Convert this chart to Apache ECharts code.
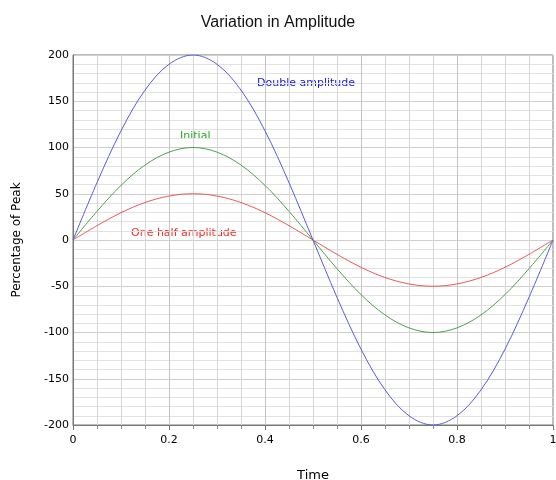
<!DOCTYPE html>
<html>
<head>
<meta charset="utf-8">
<script src="https://cdn.jsdelivr.net/npm/echarts@6/dist/echarts.min.js"></script>
<style>html,body{margin:0;padding:0;background:#fff;}#c{width:556px;height:480px;}</style>
</head>
<body>
<div id="c"></div>
<script>
var times = [0,0.05,0.1,0.15,0.2,0.25,0.3,0.35,0.4,0.45,0.5,0.55,0.6,0.65,0.7,0.75,0.8,0.85,0.9,0.95,1];
var initial = [0,31,59,81,95,100,95,81,59,31,0,-31,-59,-81,-95,-100,-95,-81,-59,-31,0];
var doubleAmp = [0,62,118,162,190,200,190,162,118,62,0,-62,-118,-162,-190,-200,-190,-162,-118,-62,0];
var halfAmp = [0,15.5,29.5,40.5,47.5,50,47.5,40.5,29.5,15.5,0,-15.5,-29.5,-40.5,-47.5,-50,-47.5,-40.5,-29.5,-15.5,0];
var xTicks = ['0','0.2','0.4','0.6','0.8','1'];
var yTicks = ['-200','-150','-100','-50','0','50','100','150','200'];

function pairs(ys){ return times.map(function(t,i){ return [t, ys[i]]; }); }

var chart = echarts.init(document.getElementById('c'));
var font = 'DejaVu Sans';
chart.setOption({
  animation: false,
  title: {
    text: 'Variation in Amplitude', left: 'center', top: 10,
    textStyle: {fontFamily: 'Liberation Sans', fontSize: 16, fontWeight: 'normal', color: '#111'}
  },
  grid: {left: 73, right: 3, top: 55, bottom: 55, show: true, borderColor: '#777', borderWidth: 1,
         outerBoundsMode: 'none', containLabel: false},
  xAxis: {
    type: 'value', min: 0, max: 1, interval: 0.2,
    name: 'Time', nameLocation: 'middle', nameGap: 44,
    nameTextStyle: {fontFamily: font, fontSize: 13, color: '#000'},
    axisLine: {show: true, onZero: false, lineStyle: {color: '#777'}},
    axisTick: {show: true, length: 5, lineStyle: {color: '#777'}},
    minorTick: {show: true, splitNumber: 4, length: 4, lineStyle: {color: '#888'}},
    axisLabel: {fontFamily: font, fontSize: 11, color: '#000', margin: 10,
      formatter: function(v){ return xTicks[Math.round(v/0.2)]; }},
    splitLine: {show: true, lineStyle: {color: '#c4c4c4'}},
    minorSplitLine: {show: true, lineStyle: {color: '#d6d6d6'}}
  },
  yAxis: {
    type: 'value', min: -200, max: 200, interval: 50,
    name: 'Percentage of Peak', nameLocation: 'middle', nameGap: 50,
    nameTextStyle: {fontFamily: font, fontSize: 12, color: '#000'},
    axisLine: {show: true, onZero: false, lineStyle: {color: '#777'}},
    axisTick: {show: false},
    minorTick: {show: false, splitNumber: 5},
    axisLabel: {fontFamily: font, fontSize: 11, color: '#000', margin: 4,
      formatter: function(v){ return yTicks[Math.round((v+200)/50)]; }},
    splitLine: {show: true, lineStyle: {color: '#cfcfcf'}},
    minorSplitLine: {show: true, lineStyle: {color: '#e2e2e2'}}
  },
  series: [
    {name: 'One half amplitude', type: 'line', data: pairs(halfAmp), smooth: 0.35, showSymbol: false,
     lineStyle: {color: '#e85a5a', width: 1}},
    {name: 'Initial', type: 'line', data: pairs(initial), smooth: 0.35, showSymbol: false,
     lineStyle: {color: '#4f9f4f', width: 1}},
    {name: 'Double amplitude', type: 'line', data: pairs(doubleAmp), smooth: 0.35, showSymbol: false,
     lineStyle: {color: '#5a5ae0', width: 1}}
  ],
  graphic: [
    {type: 'text', left: 257, top: 78, style: {text: 'Double amplitude', fill: '#2020d8', font: '11px "DejaVu Sans"'}},
    {type: 'text', left: 180, top: 131, style: {text: 'Initial', fill: '#22a822', font: '11px "DejaVu Sans"'}},
    {type: 'text', left: 131, top: 228, style: {text: 'One half amplitude', fill: '#ee2a2a', font: '11px "DejaVu Sans"'}}
  ]
});
</script>
</body>
</html>
